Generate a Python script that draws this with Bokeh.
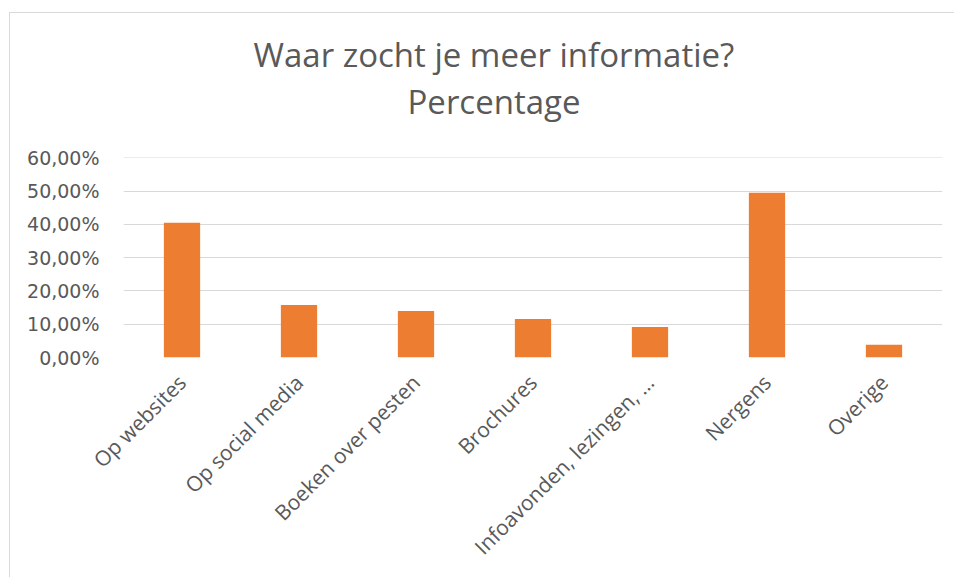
import math
from bokeh.plotting import figure
from bokeh.models import Range1d, FixedTicker, Title
from bokeh.embed import file_html
from bokeh.resources import INLINE

categories = ["Op websites", "Op social media", "Boeken over pesten", "Brochures",
              "Infoavonden, lezingen, …", "Nergens", "Overige"]
percentages = [40.5, 15.8, 14.0, 11.6, 9.2, 49.5, 3.8]
y_ticks = [0, 10, 20, 30, 40, 50, 60]
y_tick_labels = ["0,00%", "10,00%", "20,00%", "30,00%", "40,00%", "50,00%", "60,00%"]
title_line1 = "Waar zocht je meer informatie?"
title_line2 = "Percentage"

FONT = "Open Sans"
GREY = "#595959"

p = figure(x_range=categories, y_range=Range1d(0, 60.1), width=945, height=565,
           output_backend="svg", toolbar_location=None,
           min_border_left=113, min_border_right=13, min_border_top=144, min_border_bottom=221)
p.styles = {"margin-top": "12px", "margin-left": "9px",
            "border-top": "1px solid #d9d9d9", "border-left": "1px solid #d9d9d9",
            "border-right": "none", "border-bottom": "none"}

p.vbar(x=categories, top=percentages, width=0.31, fill_color="#ED7D31", line_color=None)

p.x_range.range_padding = 0
p.outline_line_color = None
p.xgrid.grid_line_color = None
p.ygrid.grid_line_color = "#d9d9d9"
p.ygrid.grid_line_width = 1

p.yaxis.ticker = FixedTicker(ticks=y_ticks)
p.yaxis.major_label_overrides = dict(zip(y_ticks, y_tick_labels))
p.yaxis.axis_line_color = None
p.yaxis.major_tick_line_color = None
p.yaxis.minor_tick_line_color = None
p.yaxis.major_label_standoff = 18
p.yaxis.major_label_text_font = "DejaVu Sans"
p.yaxis.major_label_text_font_size = "19px"
p.yaxis.major_label_text_color = GREY

p.xaxis.axis_line_color = None
p.xaxis.major_tick_line_color = None
p.xaxis.major_label_orientation = math.pi / 4
p.xaxis.major_label_standoff = 15
p.xaxis.major_label_text_font = FONT
p.xaxis.major_label_text_font_size = "21px"
p.xaxis.major_label_text_color = GREY

t2 = Title(text=title_line2, align="left", offset=284, text_font=FONT,
           text_font_size="33px", text_font_style="normal", text_color=GREY, standoff=68)
t1 = Title(text=title_line1, align="left", offset=130, text_font=FONT,
           text_font_size="33px", text_font_style="normal", text_color=GREY, standoff=-69)
p.add_layout(t2, "above")
p.add_layout(t1, "above")

open("out.html", "w").write(file_html(p, INLINE))
